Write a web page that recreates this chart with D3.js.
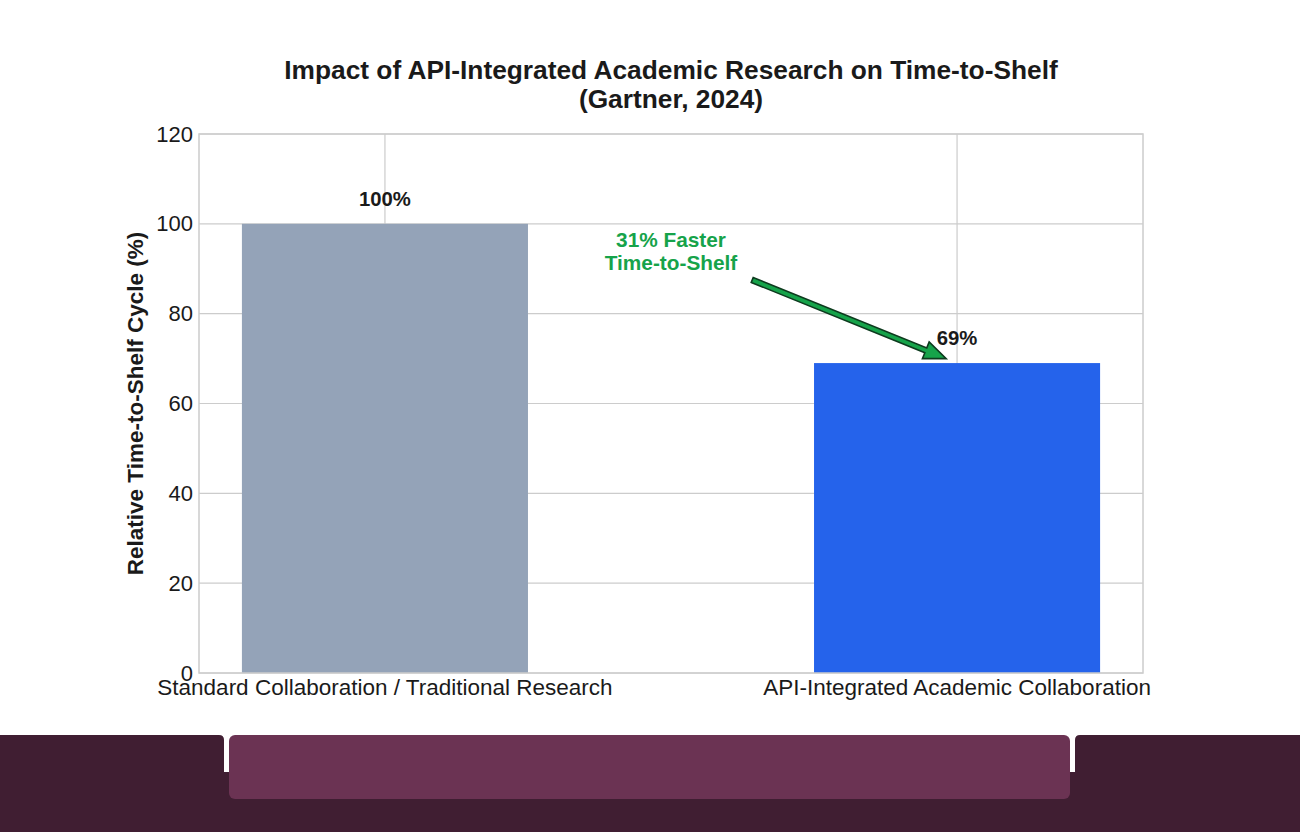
<!DOCTYPE html>
<html><head><meta charset="utf-8">
<script src="https://cdn.jsdelivr.net/npm/d3@7"></script>
<style>body{margin:0;background:#fff;}svg{display:block;font-family:"Liberation Sans",Arial,sans-serif;}</style>
</head><body><svg id="c" width="1300" height="832"></svg>
<script>
const categories = ["Standard Collaboration / Traditional Research", "API-Integrated Academic Collaboration"];
const values = [100, 69];
const valueLabels = ["100%", "69%"];
const barColors = ["#94A3B8", "#2563EB"];
const yTicks = [0, 20, 40, 60, 80, 100, 120];
const titleLines = ["Impact of API-Integrated Academic Research on Time-to-Shelf", "(Gartner, 2024)"];
const yLabel = "Relative Time-to-Shelf Cycle (%)";
const annotationLines = ["31% Faster", "Time-to-Shelf"];
const annotationText = [0.5, 94];        // [category index, value]
const arrowFrom = [0.642, 87.5];
const arrowTo = [0.981, 70];

const svg = d3.select("#c");
const L = 199, R = 1143, T = 134, B = 673;

const x = d3.scaleBand().domain(categories).range([L, R]).paddingInner(0.5).paddingOuter(0.075);
const y = d3.scaleLinear().domain([0, 120]).range([B, T]);
const xi = d3.scaleLinear().domain([0, 1]).range([x(categories[0]) + x.bandwidth()/2, x(categories[1]) + x.bandwidth()/2]);

// bottom decorative band
svg.append("rect").attr("x",0).attr("y",772).attr("width",1300).attr("height",60).attr("fill","#401E32");
svg.append("path").attr("d","M0,735 H219 Q224,735 224,740 V772 H0 Z").attr("fill","#401E32");
svg.append("path").attr("d","M1300,735 H1080 Q1075,735 1075,740 V772 H1300 Z").attr("fill","#401E32");
svg.append("rect").attr("x",229).attr("y",735).attr("width",841).attr("height",64).attr("rx",6).attr("fill","#6B3353");

// grid
const g = svg.append("g");
g.selectAll("line.hg").data(yTicks).join("line")
  .attr("x1",L).attr("x2",R).attr("y1",d=>y(d)).attr("y2",d=>y(d))
  .attr("stroke","#cccccc").attr("stroke-width",1.2);
g.selectAll("line.vg").data(categories).join("line")
  .attr("x1",d=>x(d)+x.bandwidth()/2).attr("x2",d=>x(d)+x.bandwidth()/2).attr("y1",T).attr("y2",B)
  .attr("stroke","#cccccc").attr("stroke-width",1.2);

// bars
svg.selectAll("rect.bar").data(categories).join("rect")
  .attr("x",d=>x(d)).attr("width",x.bandwidth())
  .attr("y",(d,i)=>y(values[i])).attr("height",(d,i)=>B-y(values[i]))
  .attr("fill",(d,i)=>barColors[i]);

// frame
svg.append("rect").attr("x",L).attr("y",T).attr("width",R-L).attr("height",B-T)
  .attr("fill","none").attr("stroke","#cccccc").attr("stroke-width",1.5);

// axes
const yAxis = d3.axisLeft(y).tickValues(yTicks).tickSize(0).tickPadding(6);
const ya = svg.append("g").attr("transform",`translate(${L},0)`).call(yAxis);
ya.select(".domain").remove();
ya.selectAll("text").attr("font-size",22).attr("fill","#1a1a1a").attr("font-family","Liberation Sans, Arial, sans-serif");

const xAxis = d3.axisBottom(x).tickSize(0).tickPadding(6);
const xa = svg.append("g").attr("transform",`translate(0,${B})`).call(xAxis);
xa.select(".domain").remove();
xa.selectAll("text").attr("font-size",22.5).attr("fill","#1a1a1a").attr("font-family","Liberation Sans, Arial, sans-serif");

// value labels
svg.selectAll("text.vl").data(categories).join("text")
  .attr("x",d=>x(d)+x.bandwidth()/2).attr("y",(d,i)=>y(values[i])-18)
  .attr("text-anchor","middle").attr("font-size",20.3).attr("font-weight","bold").attr("fill","#1a1a1a")
  .text((d,i)=>valueLabels[i]);

// title
svg.append("text").attr("x",(L+R)/2).attr("y",79).attr("text-anchor","middle")
  .attr("font-size",26.3).attr("font-weight","bold").attr("fill","#1a1a1a")
  .selectAll("tspan").data(titleLines).join("tspan")
  .attr("x",(L+R)/2).attr("dy",(d,i)=>i?28.5:0).text(d=>d);

// y label
svg.append("text").attr("transform",`translate(143,${(T+B)/2}) rotate(-90)`).attr("text-anchor","middle")
  .attr("font-size",22.5).attr("font-weight","bold").attr("fill","#1a1a1a").text(yLabel);

// annotation text
svg.append("text").attr("x",xi(annotationText[0])).attr("y",y(annotationText[1])-4)
  .attr("text-anchor","middle").attr("font-size",20.8).attr("font-weight","bold").attr("fill","#16A34A")
  .selectAll("tspan").data(annotationLines).join("tspan")
  .attr("x",xi(annotationText[0])).attr("dy",(d,i)=>i?23:0).text(d=>d);

// arrow
const x0 = xi(arrowFrom[0]), y0 = y(arrowFrom[1]), x1 = xi(arrowTo[0]), y1 = y(arrowTo[1]);
const dx = x1-x0, dy = y1-y0, len = Math.hypot(dx,dy), ux = dx/len, uy = dy/len, px = -uy, py = ux;
const sw = 2.6, hw = 9, hl = 22;
const bx = x1-ux*hl, by = y1-uy*hl;
const pts = [
  [x0+px*sw, y0+py*sw], [bx+px*sw, by+py*sw], [bx+px*hw, by+py*hw], [x1,y1],
  [bx-px*hw, by-py*hw], [bx-px*sw, by-py*sw], [x0-px*sw, y0-py*sw]
];
svg.append("path").attr("d","M"+pts.map(p=>p.join(",")).join("L")+"Z")
  .attr("fill","#16A34A").attr("stroke","#0d3b1e").attr("stroke-width",1.6).attr("stroke-linejoin","miter");
</script></body></html>
